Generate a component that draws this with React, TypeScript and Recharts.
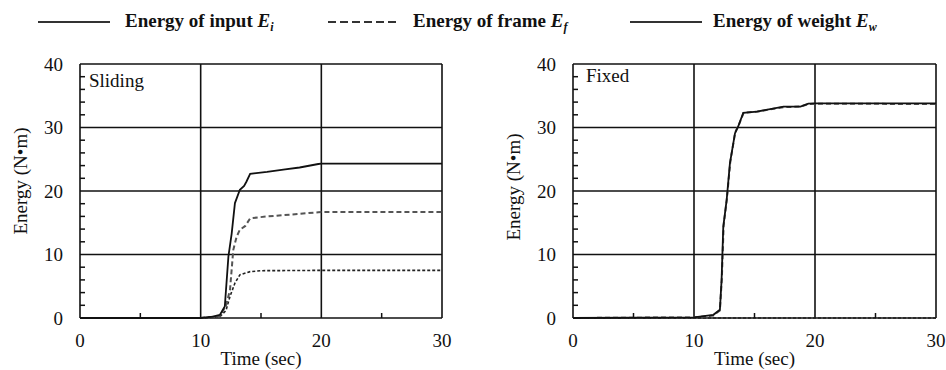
import React from "react";
import { LineChart, Line, XAxis, YAxis, CartesianGrid } from "recharts";

// Sliding case
const slideInputT = [0, 10, 11, 11.6, 12.0, 12.3, 12.57, 12.84, 13.25, 13.6, 13.8, 14.1, 15.5, 17, 18.2, 19.75, 20, 30];
const slideInputE = [0, 0, 0.2, 0.5, 1.8, 9.7, 13.3, 18.1, 20.2, 20.8, 21.5, 22.7, 23.0, 23.4, 23.7, 24.25, 24.3, 24.3];
const slideFrameT = [0, 10, 11.6, 12.1, 12.43, 12.7, 12.98, 13.25, 13.7, 14.1, 15.5, 18.2, 19.75, 20, 30];
const slideFrameE = [0, 0, 0.3, 2.0, 4.4, 10.7, 12.8, 13.9, 14.5, 15.7, 16.0, 16.4, 16.65, 16.7, 16.7];
const slideWeightT = [0, 10, 11.6, 12.1, 12.43, 12.84, 13.25, 14.1, 15, 20, 30];
const slideWeightE = [0, 0, 0.2, 1.2, 3.4, 5.5, 6.8, 7.3, 7.45, 7.5, 7.5];

// Fixed case
const fixInputT = [0, 10, 11.6, 12.14, 12.28, 12.42, 12.7, 12.97, 13.39, 13.66, 14.07, 15.2, 17.4, 18.8, 19.45, 20, 30];
const fixInputE = [0, 0.1, 0.5, 1.3, 6.0, 14.4, 18.6, 24.4, 29.1, 30.2, 32.3, 32.5, 33.3, 33.3, 33.75, 33.8, 33.8];
const fixFrameT = [0, 10, 11.6, 12.14, 12.3, 12.45, 12.72, 13.0, 13.4, 13.68, 14.1, 15.2, 17.4, 18.8, 19.5, 20, 30];
const fixFrameE = [0, 0.1, 0.4, 1.2, 6.2, 14.6, 18.8, 24.6, 29.2, 30.3, 32.3, 32.5, 33.2, 33.3, 33.7, 33.75, 33.7];
const fixWeightT = [0, 30];
const fixWeightE = [0, 0];

// major ticks (labelled, with grid lines) and all ticks incl. minor ones
const xTicks = [0, 10, 20, 30];
const yTicks = [0, 10, 20, 30, 40];
const xAllTicks = [0, 5, 10, 15, 20, 25, 30];
const yAllTicks = [0, 2, 4, 6, 8, 10, 12, 14, 16, 18, 20, 22, 24, 26, 28, 30, 32, 34, 36, 38, 40];

const legendItems = [
  { name: "Energy of input ", sub: "i", dash: undefined as string | undefined },
  { name: "Energy of frame ", sub: "f", dash: "8 4" },
  { name: "Energy of weight ", sub: "w", dash: undefined as string | undefined },
];

const toRows = (t: number[], e: number[]) => t.map((x, i) => ({ t: x, e: e[i] }));

const FONT = "'Liberation Serif', 'Times New Roman', serif";
const INK = "#111";
const TICK_SIZE = 6;
const X_MARGIN = 10;
const Y_MARGIN = 11;
const MINOR = 5;

const XTick = (props: any) => {
  const { x, y, payload } = props;
  const v = payload.value;
  if (xTicks.includes(v)) {
    return (
      <text x={x} y={y} dy="0.71em" textAnchor="middle" fontSize={19} fontFamily={FONT} style={{ fill: INK }}>
        {v}
      </text>
    );
  }
  // minor tick pointing up into the plot
  const base = y - TICK_SIZE - X_MARGIN;
  return <line x1={x} x2={x} y1={base} y2={base - MINOR} stroke={INK} strokeWidth={1.5} />;
};

const YTick = (props: any) => {
  const { x, y, payload } = props;
  const v = payload.value;
  if (yTicks.includes(v)) {
    return (
      <text x={x} y={y} dy="0.355em" textAnchor="end" fontSize={19} fontFamily={FONT} style={{ fill: INK }}>
        {v}
      </text>
    );
  }
  // minor tick pointing right into the plot
  const base = x + TICK_SIZE + Y_MARGIN;
  return <line x1={base} x2={base + MINOR} y1={y} y2={y} stroke={INK} strokeWidth={1.5} />;
};

interface PanelProps {
  left: number;
  width: number;
  yAxisWidth: number;
  rightMargin: number;
  labelShift: number;
  input: { t: number; e: number }[];
  frame: { t: number; e: number }[];
  weight: { t: number; e: number }[];
}

function Panel({ left, width, yAxisWidth, rightMargin, labelShift, input, frame, weight }: PanelProps) {
  const yLabel = (props: any) => {
    const vb = props.viewBox || {};
    const x = vb.x + (yAxisWidth - 60);
    const y = vb.y + vb.height / 2 + labelShift;
    return (
      <text
        x={x}
        y={y}
        transform={`rotate(-90, ${x}, ${y})`}
        textAnchor="middle"
        dominantBaseline="central"
        fontSize={19}
        fontFamily={FONT}
        style={{ fill: INK }}
      >
        Energy (N•m)
      </text>
    );
  };

  return (
    <div style={{ position: "absolute", left, top: 0 }}>
      <LineChart width={width} height={370} margin={{ top: 64, right: rightMargin, bottom: 0, left: 0 }}>
        <CartesianGrid stroke={INK} strokeWidth={1.6} horizontalValues={yTicks} verticalValues={xTicks} />
        <XAxis
          dataKey="t"
          type="number"
          domain={[0, 30]}
          ticks={xAllTicks}
          interval={0}
          tickLine={false}
          axisLine={false}
          tickSize={TICK_SIZE}
          tickMargin={X_MARGIN}
          height={52}
          tick={<XTick />}
          allowDuplicatedCategory={false}
          label={{ value: "Time (sec)", position: "insideBottom", offset: 5, style: { fontSize: 19, fill: INK, fontFamily: FONT } }}
        />
        <YAxis
          type="number"
          domain={[0, 40]}
          ticks={yAllTicks}
          interval={0}
          width={yAxisWidth}
          tickLine={false}
          axisLine={false}
          tickSize={TICK_SIZE}
          tickMargin={Y_MARGIN}
          tick={<YTick />}
          label={{ content: yLabel }}
        />
        <Line data={weight} dataKey="e" type="linear" stroke="#222" strokeWidth={1.6} strokeDasharray="3 2" dot={false} isAnimationActive={false} />
        <Line data={frame} dataKey="e" type="linear" stroke="#555" strokeWidth={2} strokeDasharray="5 3" dot={false} isAnimationActive={false} />
        <Line data={input} dataKey="e" type="linear" stroke={INK} strokeWidth={1.8} dot={false} isAnimationActive={false} />
      </LineChart>
    </div>
  );
}

function TopLegend() {
  const lineX = [38, 328, 630];
  const textX = [125, 413, 713];
  return (
    <svg width={946} height={40} style={{ position: "absolute", left: 0, top: 0 }}>
      {legendItems.map((it, i) => (
        <g key={it.sub}>
          <line x1={lineX[i]} x2={lineX[i] + 72} y1={22} y2={22} stroke="#333" strokeWidth={2} strokeDasharray={it.dash} />
          <text x={textX[i]} y={27} fontSize={19} fontWeight="bold" fontFamily={FONT} style={{ fill: INK }}>
            {it.name}
            <tspan fontStyle="italic">E</tspan>
            <tspan fontStyle="italic" fontSize={12} dy={4}>{it.sub}</tspan>
          </text>
        </g>
      ))}
    </svg>
  );
}

export default function App() {
  return (
    <div style={{ position: "absolute", left: 0, top: 0, width: 946, height: 370, background: "#fff", overflow: "hidden" }}>
      <TopLegend />
      <Panel
        left={0}
        width={470}
        yAxisWidth={80}
        rightMargin={28}
        labelShift={-10}
        input={toRows(slideInputT, slideInputE)}
        frame={toRows(slideFrameT, slideFrameE)}
        weight={toRows(slideWeightT, slideWeightE)}
      />
      <Panel
        left={480}
        width={466}
        yAxisWidth={93}
        rightMargin={10}
        labelShift={-4}
        input={toRows(fixInputT, fixInputE)}
        frame={toRows(fixFrameT, fixFrameE)}
        weight={toRows(fixWeightT, fixWeightE)}
      />
      <div style={{ position: "absolute", left: 89, top: 70, fontSize: 19, fontFamily: FONT, color: INK }}>Sliding</div>
      <div style={{ position: "absolute", left: 586, top: 65, fontSize: 19, fontFamily: FONT, color: INK }}>Fixed</div>
    </div>
  );
}
